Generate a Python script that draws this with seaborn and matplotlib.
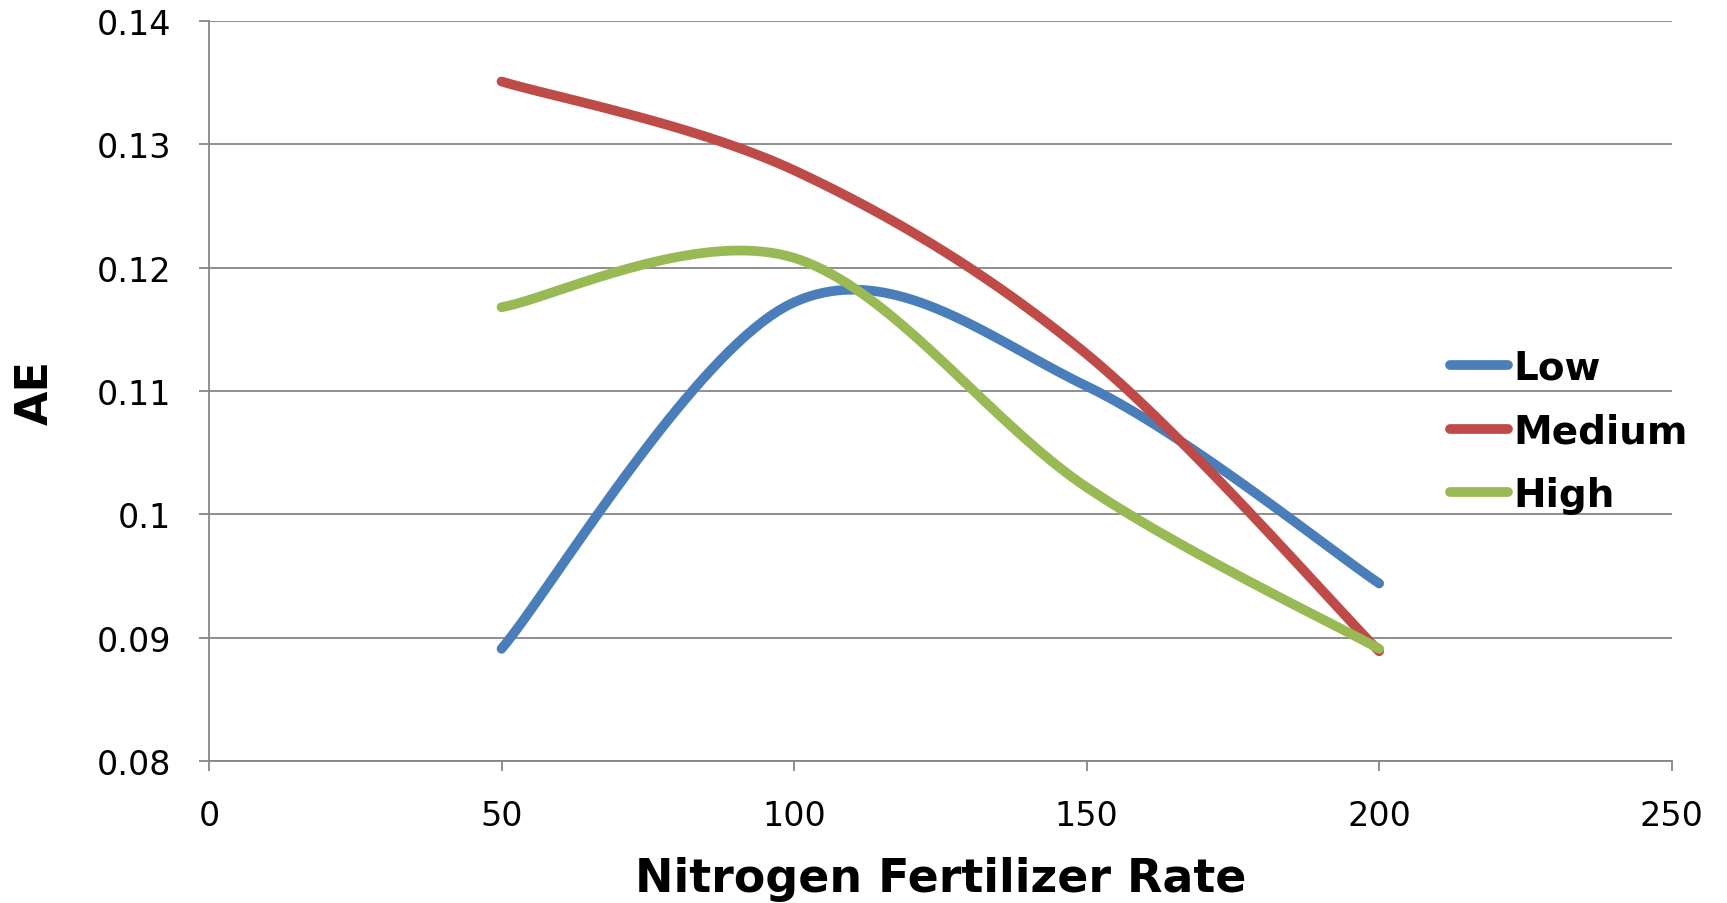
import numpy as np
import pandas as pd
import matplotlib
matplotlib.use("Agg")
import matplotlib.pyplot as plt
import seaborn as sns

# values (AE at each nitrogen rate)
rates = [50, 100, 150, 200]
low = [0.0891, 0.1172, 0.1104, 0.0944]
medium = [0.1351, 0.1279, 0.1130, 0.0889]
high = [0.1168, 0.1208, 0.1022, 0.0891]
levels = ["Low", "Medium", "High"]
colors = ["#4A7EBB", "#BE4B48", "#98B954"]
x_ticks = [0, 50, 100, 150, 200, 250]
y_ticks = [0.08, 0.09, 0.10, 0.11, 0.12, 0.13, 0.14]
y_tick_labels = ["0.08", "0.09", "0.1", "0.11", "0.12", "0.13", "0.14"]


def smooth(xs, ys, n=40):
    """Excel-like smoothed line: cubic bezier through every point."""
    pts = np.column_stack([xs, ys]).astype(float)
    ext = np.vstack([pts[0], pts, pts[-1]])
    t = np.linspace(0, 1, n)[:, None]
    out = []
    for i in range(len(pts) - 1):
        p0, p3 = pts[i], pts[i + 1]
        p1 = p0 + (ext[i + 2] - ext[i]) / 6
        p2 = p3 - (ext[i + 3] - ext[i + 1]) / 6
        seg = (1 - t) ** 3 * p0 + 3 * (1 - t) ** 2 * t * p1 + 3 * (1 - t) * t ** 2 * p2 + t ** 3 * p3
        out.append(seg if i == 0 else seg[1:])
    return np.vstack(out)


frames = []
for name, vals in zip(levels, [low, medium, high]):
    curve = smooth(rates, vals)
    frames.append(pd.DataFrame({"rate": curve[:, 0], "AE": curve[:, 1], "level": name}))
df = pd.concat(frames, ignore_index=True)

sns.set_style("white")
plt.rcParams["font.family"] = ["DejaVu Sans"]
plt.rcParams["text.color"] = "black"

fig = plt.figure(figsize=(17.27, 9.04), dpi=100)
ax = fig.add_axes([0.121, 0.157, 0.847, 0.8186])

sns.lineplot(data=df, x="rate", y="AE", hue="level", hue_order=levels, palette=colors,
             sort=False, estimator=None, units="level", lw=7, solid_capstyle="round", ax=ax)

ax.set_xlim(0, 250)
ax.set_ylim(0.08, 0.14)
ax.set_xticks(x_ticks)
ax.set_yticks(y_ticks)
ax.set_yticklabels(y_tick_labels)
ax.yaxis.grid(True, color="#868686", lw=1.3)
ax.set_axisbelow(True)
for side in ["top", "right"]:
    ax.spines[side].set_visible(False)
for side in ["left", "bottom"]:
    ax.spines[side].set_color("#868686")
    ax.spines[side].set_linewidth(1.3)
ax.tick_params(bottom=True, left=True, direction="out", length=7, width=1.3,
               color="#868686", labelsize=24, pad=20, labelcolor="black")

ax.set_xlabel("Nitrogen Fertilizer Rate", fontsize=33, fontweight="bold", color="black")
ax.xaxis.label.set_verticalalignment("baseline")
ax.xaxis.set_label_coords(0.5, -0.176)
ax.set_ylabel("AE", fontsize=32, fontweight="bold", color="black")
ax.yaxis.label.set_verticalalignment("center")
ax.yaxis.set_label_coords(-0.119, 0.5)

handles, labels = ax.get_legend_handles_labels()
for h in handles:
    h.set_linewidth(7)
    h.set_solid_capstyle("round")
leg = ax.legend(handles, labels, loc="center left", bbox_to_anchor=(0.8397, 0.522),
                bbox_transform=fig.transFigure, frameon=False, borderpad=0, borderaxespad=0,
                handlelength=1.5, handletextpad=0.12, labelspacing=0.66,
                prop={"size": 28, "weight": "bold"})
for txt in leg.get_texts():
    txt.set_color("black")

fig.savefig("out.png", dpi=100)
